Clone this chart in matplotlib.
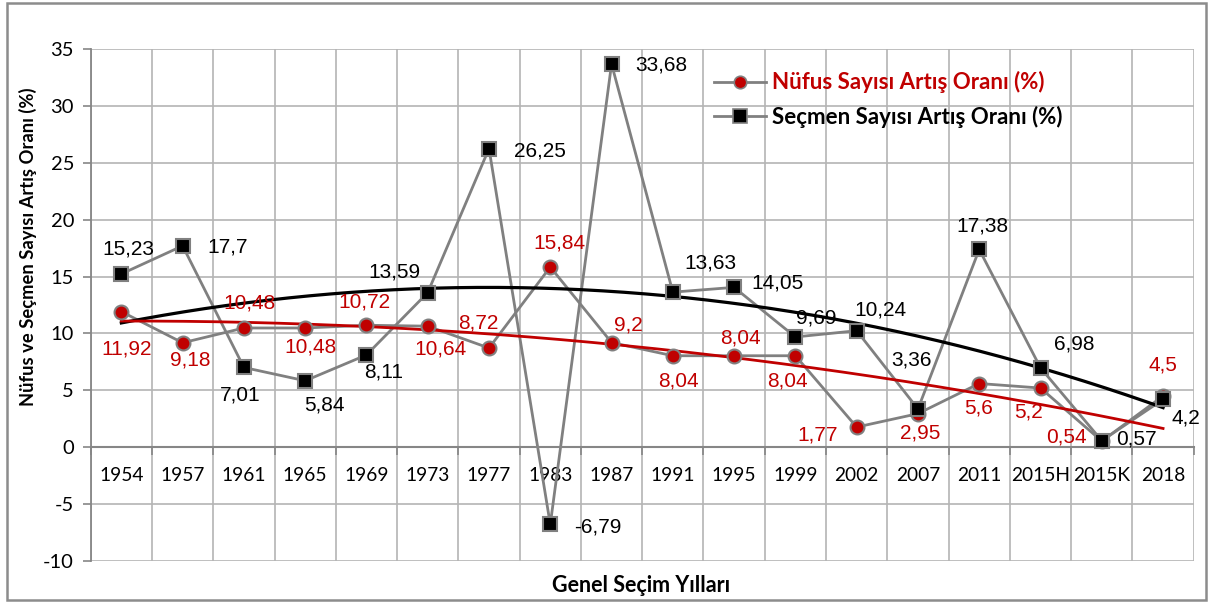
import numpy as np
import matplotlib.pyplot as plt
from matplotlib.patches import Rectangle

plt.rcParams["axes.unicode_minus"] = False

years = ["1954", "1957", "1961", "1965", "1969", "1973", "1977", "1983", "1987",
         "1991", "1995", "1999", "2002", "2007", "2011", "2015H", "2015K", "2018"]
nufus = [11.92, 9.18, 10.48, 10.48, 10.72, 10.64, 8.72, 15.84, 9.2,
         8.04, 8.04, 8.04, 1.77, 2.95, 5.6, 5.2, 0.54, 4.5]
secmen = [15.23, 17.7, 7.01, 5.84, 8.11, 13.59, 26.25, -6.79, 33.68,
          13.63, 14.05, 9.69, 10.24, 3.36, 17.38, 6.98, 0.57, 4.2]

nufus_name = "Nüfus Sayısı Artış Oranı (%)"
secmen_name = "Seçmen Sayısı Artış Oranı (%)"

# label offsets in pixels (dx, dy with dy measured downward)
nufus_off = [(5, 37), (8, 17), (6, -25), (5, 19), (-2, -23), (13, 23), (-11, -25), (9, -24), (17, -18),
             (6, 25), (6, -18), (-8, 25), (-39, 8), (2, 19), (-1, 24), (-12, 24), (-35, -4), (0, -31)]
secmen_off = [(7, -25), (45, 1), (-4, 28), (19, 24), (17, 17), (-33, -21), (51, 2), (48, 3), (50, 1),
              (38, -29), (43, -4), (21, -19), (24, -21), (-6, -49), (3, -23), (34, -24), (35, -2), (23, 19)]

RED = "#C00000"
GRID = "#b4b4b4"
AXIS = "#868686"
SER = "#808080"
calib = ["Lato", "DejaVu Sans"]
arial = ["Liberation Sans", "DejaVu Sans"]

fig = plt.figure(figsize=(12.1, 6.03), dpi=100)
ax = fig.add_axes([90.7 / 1210, 1 - 561 / 603, 1103 / 1210, 512 / 603])

x = np.arange(len(years))
ax.set_xlim(-0.5, len(years) - 0.5)
ax.set_ylim(-10, 35)

# grid
ax.set_yticks(np.arange(-10, 36, 5))
ax.set_xticks(x)
ax.set_xticks(np.arange(-0.5, len(years), 1), minor=True)
ax.grid(True, which="minor", axis="x", color=GRID, lw=1.2, zorder=0)
ax.grid(True, which="major", axis="y", color=GRID, lw=1.2, zorder=0)
ax.set_axisbelow(True)

for s in ["top", "right"]:
    ax.spines[s].set_visible(False)
ax.spines["left"].set_color(AXIS)
ax.spines["left"].set_linewidth(1.3)
ax.spines["bottom"].set_position(("data", 0))
ax.spines["bottom"].set_color(AXIS)
ax.spines["bottom"].set_linewidth(1.5)

ax.tick_params(axis="y", length=6, width=1.2, color=AXIS, pad=6)
ax.tick_params(axis="x", which="major", length=0, pad=14)
ax.tick_params(axis="x", which="minor", length=6, width=1.2, color=AXIS, direction="out")
ax.set_xticklabels(years)
for lab in ax.get_xticklabels():
    lab.set_family(calib)
    lab.set_fontsize(13.8)
for lab in ax.get_yticklabels():
    lab.set_family(calib)
    lab.set_fontsize(14.5)

# series lines
ax.plot(x, nufus, color=SER, lw=2, zorder=2)
ax.plot(x, secmen, color=SER, lw=2, zorder=2)

# polynomial (order 2) trendlines
xs = np.linspace(0, len(years) - 1, 200)
ax.plot(xs, np.polyval(np.polyfit(x, secmen, 2), xs), color="black", lw=2.3, zorder=3)
ax.plot(xs, np.polyval(np.polyfit(x, nufus, 2), xs), color=RED, lw=2.0, zorder=3)

# markers
ax.plot(x, nufus, ls="none", marker="o", ms=10, mfc=RED, mec=SER, mew=1.5, zorder=4)
ax.plot(x, secmen, ls="none", marker="s", ms=10.5, mfc="black", mec=SER, mew=1.5, zorder=5)

# legend handles
h1, = ax.plot([], [], color=SER, lw=2, marker="o", ms=9, mfc=RED, mec=SER, mew=1.2)
h2, = ax.plot([], [], color=SER, lw=2, marker="s", ms=9.5, mfc="black", mec=SER, mew=1.2)
leg = ax.legend([h1, h2], [nufus_name, secmen_name], loc="center left",
                bbox_to_anchor=(694 / 1210, 1 - 99.5 / 603), bbox_transform=fig.transFigure,
                frameon=False, handlelength=2.35, handletextpad=0.25, labelspacing=0.55,
                prop={"family": calib, "weight": "bold", "size": 16})
leg.get_texts()[0].set_color(RED)
leg.get_texts()[1].set_color("black")

# data labels
def fmt(v):
    return str(v).replace(".", ",")

for i in range(len(years)):
    dx, dy = nufus_off[i]
    ax.annotate(fmt(nufus[i]), (x[i], nufus[i]), xytext=(dx, -dy), textcoords="offset pixels",
                ha="center", va="center", color=RED, fontsize=15, family=arial, zorder=6)
    dx, dy = secmen_off[i]
    ax.annotate(fmt(secmen[i]), (x[i], secmen[i]), xytext=(dx, -dy), textcoords="offset pixels",
                ha="center", va="center", color="black", fontsize=15, family=arial, zorder=6)

# axis titles
fig.text(28 / 1210, 1 - 247 / 603, "Nüfus ve Seçmen Sayısı Artış Oranı (%)", rotation=90,
         ha="center", va="center", fontsize=13.2, fontweight="bold", family=calib)
fig.text(641 / 1210, 1 - 585 / 603, "Genel Seçim Yılları", ha="center", va="center",
         fontsize=15.5, fontweight="bold", family=calib)

# outer chart border
fig.patches.append(Rectangle((7 / 1210, 3 / 603), 1199 / 1210, 597 / 603, transform=fig.transFigure,
                             fill=False, edgecolor="#8c8c8c", lw=1.8))

fig.savefig("out.png", dpi=100)
